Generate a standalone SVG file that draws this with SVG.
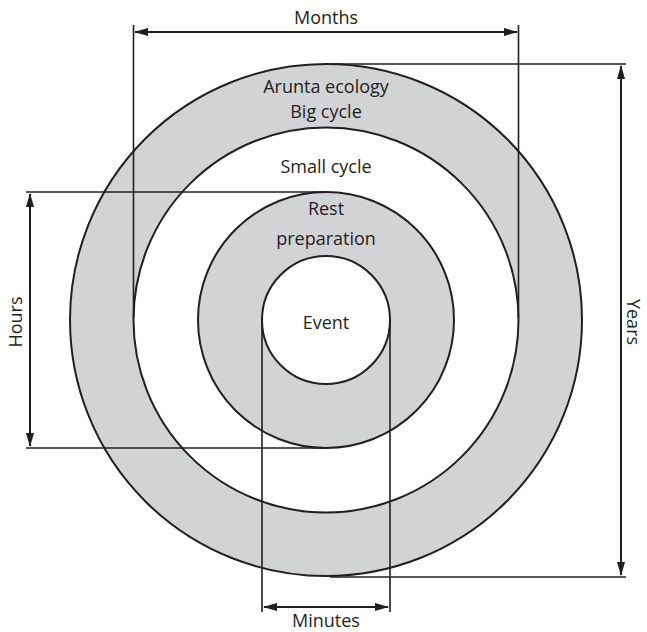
<svg xmlns="http://www.w3.org/2000/svg" width="647" height="632" viewBox="0 0 647 632">
<defs>
<style>
.ring{fill:#d1d3d4;stroke:#231f20;stroke-width:2}
.hole{fill:#ffffff;stroke:#231f20;stroke-width:2}
.ln{stroke:#231f20;stroke-width:1.6;fill:none}
.arr{stroke:#231f20;stroke-width:2;fill:none;marker-start:url(#ah);marker-end:url(#ah)}
text{font-family:"Open Sans","Noto Sans",sans-serif;font-size:18px;fill:#231f20;text-anchor:middle}
</style>
<marker id="ah" viewBox="0 0 14 8" refX="13" refY="4" markerWidth="14" markerHeight="8" markerUnits="userSpaceOnUse" orient="auto-start-reverse">
<path d="M0,0 L14,4 L0,8 Z" fill="#231f20"/>
</marker>
</defs>
<rect width="647" height="632" fill="#ffffff"/>
<g id="big-cycle"><circle class="ring" cx="326" cy="320" r="256"/><text x="326" y="93">Arunta ecology</text><text x="326" y="118">Big cycle</text></g>
<g id="small-cycle"><circle class="hole" cx="326" cy="320" r="192.5"/><text x="326" y="173">Small cycle</text></g>
<g id="rest-preparation"><circle class="ring" cx="326" cy="320" r="128"/><text x="326" y="215">Rest</text><text x="326" y="245">preparation</text></g>
<g id="event"><circle class="hole" cx="326" cy="320" r="64"/><text x="326" y="329">Event</text></g>
<g id="connectors">
<path class="ln" d="M133.5,25 V318 M518.5,25 V318"/>
<path class="arr" d="M135,32 H517"/>
<text x="326" y="24">Months</text>
<path class="ln" d="M330,64 H626 M330,577 H626"/>
<path class="arr" d="M621,66 V575"/>
<text transform="translate(627,322) rotate(90)" x="0" y="0">Years</text>
<path class="ln" d="M26,192 H326 M26,448 H326"/>
<path class="arr" d="M30,194 V446"/>
<text transform="translate(22,322) rotate(-90)" x="0" y="0">Hours</text>
<path class="ln" d="M262,320 V612 M390,320 V612"/>
<path class="arr" d="M264,607 H388"/>
<text x="326" y="627">Minutes</text>
</g>
</svg>
